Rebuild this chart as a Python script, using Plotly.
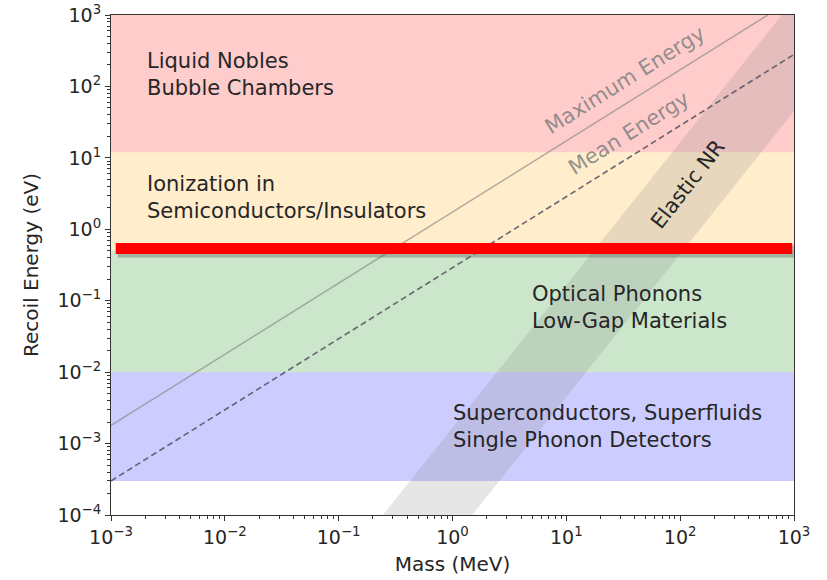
import plotly.graph_objects as go
import numpy as np

# ---- data ----
x_range = [1e-3, 1e3]
# horizontal detector bands (eV)
band_names = ["Liquid Nobles / Bubble Chambers", "Ionization", "Optical Phonons", "Superconductors"]
band_lo = [12.0, 0.5, 1e-2, 3e-4]
band_hi = [1e3, 12.0, 0.5, 1e-2]
band_colors = ["rgba(255,0,0,0.2)", "rgba(255,165,0,0.2)", "rgba(0,128,0,0.2)", "rgba(0,0,255,0.2)"]

# recoil energy lines
max_x = [1e-3, 590.0]
max_y = [1.8e-3, 1e3]
mean_x = [1e-3, 1e3]
mean_y = [3.0e-4, 2.8e2]

# elastic NR band edges
nr_left_x = [0.245, 780.0]
nr_left_y = [1e-4, 1e3]
nr_right_x = [1.49, 1000.0]
nr_right_y = [1e-4, 45.0]

# highlighted threshold
thresh_x = [1.1e-3, 964.0]
thresh_y = [0.54, 0.54]

xtick_vals = [1e-3, 1e-2, 1e-1, 1e0, 1e1, 1e2, 1e3]
xtick_text = ["10<sup>−3</sup>", "10<sup>−2</sup>", "10<sup>−1</sup>", "10<sup>0</sup>",
              "10<sup>1</sup>", "10<sup>2</sup>", "10<sup>3</sup>"]
ytick_vals = [1e-4, 1e-3, 1e-2, 1e-1, 1e0, 1e1, 1e2, 1e3]
ytick_text = ["10<sup>−4</sup>", "10<sup>−3</sup>", "10<sup>−2</sup>", "10<sup>−1</sup>",
              "10<sup>0</sup>", "10<sup>1</sup>", "10<sup>2</sup>", "10<sup>3</sup>"]

FONT = "DejaVu Sans"
TXT = "#262626"

fig = go.Figure()

for lo, hi, c in zip(band_lo, band_hi, band_colors):
    fig.add_trace(go.Scatter(
        x=[x_range[0], x_range[1], x_range[1], x_range[0], x_range[0]],
        y=[lo, lo, hi, hi, lo], mode="lines", fill="toself",
        fillcolor=c, line=dict(width=0), hoverinfo="skip", showlegend=False))

# elastic NR band
fig.add_trace(go.Scatter(
    x=[nr_left_x[0], nr_left_x[1], x_range[1], nr_right_x[1], nr_right_x[0], nr_left_x[0]],
    y=[nr_left_y[0], nr_left_y[1], nr_left_y[1], nr_right_y[1], nr_right_y[0], nr_left_y[0]],
    mode="lines", fill="toself", fillcolor="rgba(128,128,128,0.2)",
    line=dict(width=0), hoverinfo="skip", showlegend=False))

fig.add_trace(go.Scatter(x=max_x, y=max_y, mode="lines",
                         line=dict(color="rgba(128,128,128,0.6)", width=1.5),
                         hoverinfo="skip", showlegend=False))
fig.add_trace(go.Scatter(x=mean_x, y=mean_y, mode="lines",
                         line=dict(color="rgba(85,85,100,0.85)", width=1.7, dash="6px,3.5px"),
                         hoverinfo="skip", showlegend=False))

# shadow of threshold line
shadow_y = [v * 10 ** (-3 / 71.4) for v in thresh_y]
shadow_x = [v * 10 ** (2 / 113.8) for v in thresh_x]
fig.add_trace(go.Scatter(x=shadow_x, y=shadow_y, mode="lines",
                         line=dict(color="rgba(60,60,60,0.3)", width=12),
                         hoverinfo="skip", showlegend=False))
fig.add_trace(go.Scatter(x=thresh_x, y=thresh_y, mode="lines",
                         line=dict(color="#ff0000", width=11),
                         hoverinfo="skip", showlegend=False))

ann_font = dict(family=FONT, size=21, color=TXT)
annots = [
    dict(x=-2.705, y=2.17, text="Liquid Nobles<br>Bubble Chambers"),
    dict(x=-2.705, y=0.44, text="Ionization in<br>Semiconductors/Insulators"),
    dict(x=0.685, y=-1.10, text="Optical Phonons<br>Low-Gap Materials"),
    dict(x=-0.01, y=-2.76, text="Superconductors, Superfluids<br>Single Phonon Detectors"),
]
for a in annots:
    fig.add_annotation(x=a["x"], y=a["y"], text=a["text"], showarrow=False,
                       xanchor="left", yanchor="middle", align="left", font=ann_font)

fig.add_annotation(x=1.517, y=2.09, text="Maximum Energy", showarrow=False, textangle=-32,
                   font=dict(family=FONT, size=21, color="rgba(128,128,128,0.85)"))
fig.add_annotation(x=1.55, y=1.35, text="Mean Energy", showarrow=False, textangle=-32,
                   font=dict(family=FONT, size=21, color="rgba(128,128,128,0.85)"))
fig.add_annotation(x=2.07, y=0.633, text="Elastic NR", showarrow=False, textangle=-52,
                   font=dict(family=FONT, size=21, color=TXT))

minor_x = [m * 10.0 ** k for k in range(-3, 3) for m in range(2, 10)]
minor_y = [m * 10.0 ** k for k in range(-4, 3) for m in range(2, 10)]

axis_common = dict(type="log", showgrid=False, zeroline=False, showline=True, mirror=True,
                   linecolor="#333", linewidth=1, ticks="outside", ticklen=5, tickwidth=1,
                   tickcolor="#333", automargin=False,
                   tickfont=dict(family=FONT, size=19, color=TXT))
fig.update_xaxes(**axis_common, range=[-3, 3], tickmode="array", tickvals=xtick_vals,
                 ticktext=xtick_text,
                 minor=dict(tickmode="array", tickvals=minor_x, ticks="outside", ticklen=3,
                            tickcolor="#333"),
                 title=dict(text="Mass (MeV)", font=dict(family=FONT, size=20, color=TXT), standoff=10))
fig.update_yaxes(**axis_common, range=[-4, 3], tickmode="array", tickvals=ytick_vals,
                 ticktext=ytick_text,
                 minor=dict(tickmode="array", tickvals=minor_y, ticks="outside", ticklen=3,
                            tickcolor="#333"),
                 title=dict(text="Recoil Energy (eV)", font=dict(family=FONT, size=20, color=TXT), standoff=13))

fig.update_layout(width=827, height=580, margin=dict(l=111, r=33, t=15, b=65),
                  plot_bgcolor="white", paper_bgcolor="white", showlegend=False,
                  font=dict(family=FONT))

fig.write_html("out.html")
